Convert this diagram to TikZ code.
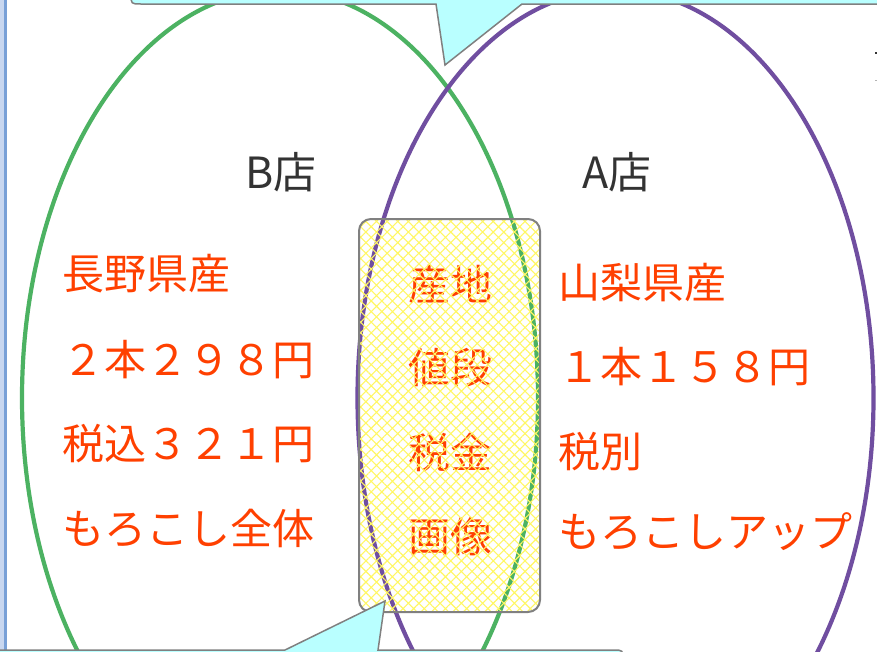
\documentclass[tikz,border=0pt]{standalone}
\usepackage{fontspec}
\setmainfont{Noto Sans CJK JP}
\usetikzlibrary{patterns.meta}
\definecolor{gr}{RGB}{76,178,98}
\definecolor{pu}{RGB}{112,78,160}
\definecolor{tx}{RGB}{255,64,0}
\definecolor{cyb}{RGB}{185,255,255}
\definecolor{bd}{RGB}{128,128,128}
\definecolor{hy}{RGB}{255,247,100}
\definecolor{dk}{RGB}{51,51,51}
\definecolor{lb}{RGB}{200,215,240}
\definecolor{mb}{RGB}{120,160,215}
\begin{document}
\begin{tikzpicture}[x=1pt,y=-1pt,
  ring/.style={line width=4.2pt},
  item/.style={text=tx,font=\fontsize{42}{42}\selectfont,inner sep=0pt,anchor=west},
  mid/.style={text=tx,font=\fontsize{42}{42}\selectfont,inner sep=0pt},
  shop/.style={text=dk,font=\fontsize{43}{43}\selectfont,inner sep=0pt},
  callout/.style={fill=cyb,draw=bd,line width=1.5pt,line join=miter}]
\useasboundingbox (0,0) rectangle (877,651);
\clip (0,0) rectangle (877,651);
\fill[white] (0,0) rectangle (877,651);
% left margin
\fill[lb] (0,0) rectangle (4,651);
\fill[mb] (4,0) rectangle (6.5,651);
% ellipses
\draw[ring,gr] (280,398) ellipse [x radius=258, y radius=408];
\draw[ring,pu] (615.5,398) ellipse [x radius=258, y radius=408];
% titles
\node[shop] (b) at (281,172) {B店};
\node[shop] (a) at (617,172) {A店};
% left texts
\node[item] (l1) at (62,274) {長野県産};
\node[item] (l2) at (62,360) {２本２９８円};
\node[item] (l3) at (62,444) {税込３２１円};
\node[item] (l4) at (62,528) {もろこし全体};
% right texts
\node[item] (r1) at (558,283) {山梨県産};
\node[item] (r2) at (558,367) {１本１５８円};
\node[item] (r3) at (558,452) {税別};
\node[item] (r4) at (558,532) {もろこしアップ};
% middle texts
\node[mid] (m1) at (450,285) {産地};
\node[mid] (m2) at (450,368) {値段};
\node[mid] (m3) at (450,453) {税金};
\node[mid] (m4) at (450,537) {画像};
% hatched box
\path[rounded corners=12pt,pattern={Hatch[distance=7.5pt,angle=45,line width=1.1pt]},pattern color=hy] (359,219) rectangle (540,612);
\draw[bd,line width=2pt,rounded corners=12pt] (359,219) rectangle (540,612);
% top callout
\draw[callout] (131,-60) -- (131,-6) .. controls (131,4) .. (141,4) -- (436,4) -- (445,65) -- (522,4) -- (900,4) -- (900,-60);
% bottom callout
\draw[callout] (-20,700) -- (-20,650) -- (285,650) -- (385,601) -- (378,650) -- (613,650) .. controls (623,650) .. (623,660) -- (623,700);
% cut-off marks at right edge
\fill[dk] (875,51.5) rectangle (877,53.5);
\fill[bd!60] (875,79.5) rectangle (877,81);
\end{tikzpicture}
\end{document}
